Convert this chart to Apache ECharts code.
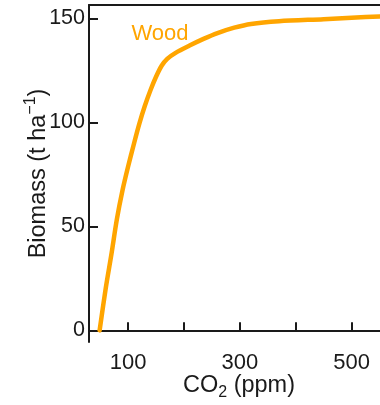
<!DOCTYPE html>
<html><head><meta charset="utf-8">
<script src="https://cdn.jsdelivr.net/npm/echarts@6/dist/echarts.min.js"></script>
<style>html,body{margin:0;padding:0;background:#fff}#c{width:380px;height:405px}</style>
</head><body><div id="c"></div>
<script>
const co2 = [49, 60, 70, 80, 90, 100, 110, 120, 130, 140, 150, 160, 170, 185, 210, 235, 260, 290, 320, 370, 450, 500, 550, 570];
const biomass = [0, 20.3, 36.4, 53.6, 67.4, 78.8, 89.3, 99.3, 108, 115.5, 122, 127.3, 130.6, 133.5, 137, 140.2, 143, 145.6, 147.4, 148.7, 149.7, 150.4, 151, 151.3];
const xTicks = [100, 200, 300, 400, 500];
const xLabels = [100, 300, 500];
const yTicks = [0, 50, 100, 150];
const seriesName = 'Wood';
const labelAt = [106, 142.6];

const FONT = "'Liberation Sans', Arial, sans-serif";
const INK = '#1a1a1a';
const ORANGE = '#ffa500';
const chart = echarts.init(document.getElementById('c'), null, {renderer: 'canvas'});
chart.setOption({
  animation: false,
  backgroundColor: '#fff',
  textStyle: {fontFamily: FONT},
  grid: {left: 89, top: 5, right: -9, bottom: 63, containLabel: false, outerBoundsMode: 'none'},
  xAxis: [{
    type: 'value', min: 30, max: 567,
    axisLine: {show: true, lineStyle: {color: INK, width: 2}},
    axisTick: {show: true, inside: true, length: 8, lineStyle: {color: INK, width: 2}, customValues: xTicks},
    axisLabel: {show: true, customValues: xLabels, color: INK, fontSize: 22, fontFamily: FONT, margin: 10},
    splitLine: {show: false},
    name: '{a|CO}{sub|2}{a| (ppm)}', nameLocation: 'middle', nameGap: 28, nameMoveOverlap: false,
    nameTextStyle: {fontFamily: FONT, color: INK, rich: {
      a: {fontSize: 23.5, fontFamily: FONT, color: INK, lineHeight: 28, verticalAlign: 'bottom'},
      sub: {fontSize: 16, fontFamily: FONT, color: INK, lineHeight: 28, verticalAlign: 'bottom', padding: [0, 0, -3, 0]}
    }}
  }, {
    type: 'value', position: 'top', min: 30, max: 567,
    axisLine: {show: true, lineStyle: {color: INK, width: 2}},
    axisTick: {show: false}, axisLabel: {show: false}, splitLine: {show: false}
  }],
  yAxis: {
    type: 'value', min: -5.6, max: 156.5,
    axisLine: {show: true, lineStyle: {color: INK, width: 2}},
    axisTick: {show: true, inside: true, length: 9, lineStyle: {color: INK, width: 2}, customValues: yTicks},
    axisLabel: {show: true, customValues: yTicks, color: INK, fontSize: 21.5, fontFamily: FONT, margin: 4},
    splitLine: {show: false},
    name: '{a|Biomass (t ha}{sup|−1}{a|)}', nameLocation: 'middle', nameGap: 38, nameMoveOverlap: false,
    nameTextStyle: {fontFamily: FONT, color: INK, rich: {
      a: {fontSize: 23.5, fontFamily: FONT, color: INK, lineHeight: 28, verticalAlign: 'bottom'},
      sup: {fontSize: 16, fontFamily: FONT, color: INK, lineHeight: 28, verticalAlign: 'top'}
    }}
  },
  series: [{
    type: 'line', name: seriesName,
    data: co2.map((x, i) => [x, biomass[i]]),
    showSymbol: false, smooth: 0.3,
    lineStyle: {color: ORANGE, width: 4.5, cap: 'round', join: 'round'},
    markPoint: {
      symbol: 'circle', symbolSize: 0,
      data: [{coord: labelAt, value: seriesName}],
      label: {show: true, position: 'inside', align: 'left', verticalAlign: 'middle', formatter: seriesName,
        color: ORANGE, fontSize: 22, fontFamily: FONT}
    }
  }]
});
</script></body></html>
